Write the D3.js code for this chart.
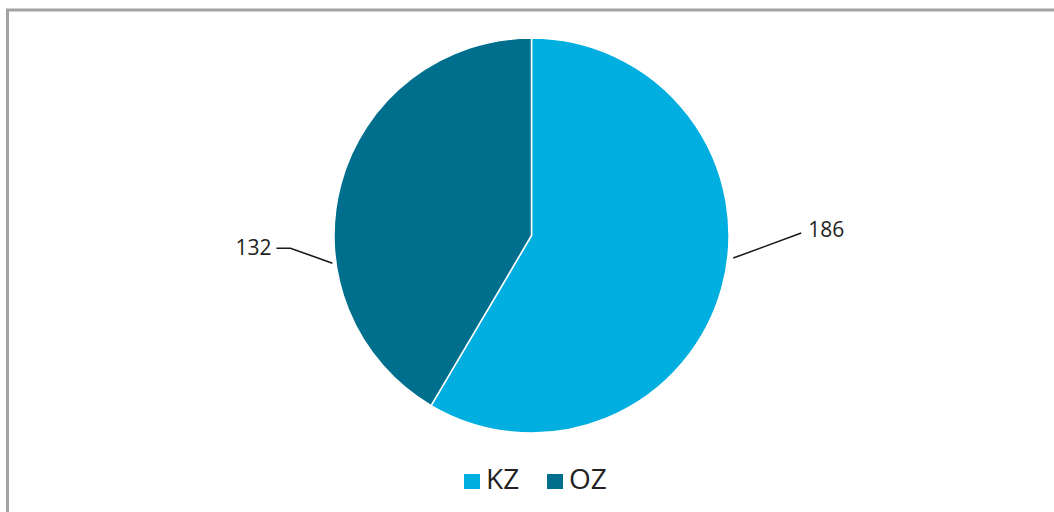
<!DOCTYPE html>
<html><head><meta charset="utf-8">
<script src="https://cdn.jsdelivr.net/npm/d3@7"></script>
<style>body{margin:0;background:#fff}svg{display:block}text{font-family:"Open Sans",sans-serif;fill:#231f20}</style>
</head><body>
<svg id="c" width="1054" height="512"></svg>
<script>
const categories = ["KZ", "OZ"];
const values = [186, 132];
const colors = ["#00aedf", "#006f8d"];

const svg = d3.select("#c");
// frame
svg.append("path").attr("d", "M7.5,520 V10 H1060").attr("fill", "none")
  .attr("stroke", "#a3a3a6").attr("stroke-width", 3);

const cx = 531.5, cy = 235.5, r = 197.5;
const g = svg.append("g").attr("transform", `translate(${cx},${cy})`);
const pie = d3.pie().sort(null).value(d => d.v);
const data = pie(categories.map((c, i) => ({c, v: values[i], col: colors[i]})));
const arc = d3.arc().innerRadius(0).outerRadius(r);
g.selectAll("path.s").data(data).join("path").attr("class", "s")
  .attr("d", arc).attr("fill", d => d.data.col)
  .attr("stroke", "#fff").attr("stroke-width", 1.5).attr("stroke-linejoin", "miter");

// leader lines & labels (layout: anchor angle offsets from slice middle)
const layout = [
  {off: -8.9, r0: 203, pts: [[68, -25]], tx: 7, ty: 4, anchor: "start"},
  {off: -23.2, r0: 201, pts: [[-42, -15], [-56, -15]], tx: -5, ty: 7, anchor: "end"}
];
data.forEach((d, i) => {
  const L = layout[i];
  const a = (d.startAngle + d.endAngle) / 2 + L.off * Math.PI / 180;
  const x0 = Math.sin(a) * L.r0, y0 = -Math.cos(a) * L.r0;
  const pts = [[x0, y0]].concat(L.pts.map(p => [x0 + p[0], y0 + p[1]]));
  g.append("path").attr("d", d3.line()(pts)).attr("fill", "none")
    .attr("stroke", "#1a1a1a").attr("stroke-width", 1.6);
  const last = pts[pts.length - 1];
  g.append("text").attr("x", last[0] + L.tx).attr("y", last[1] + L.ty)
    .attr("text-anchor", L.anchor).attr("font-size", 21).text(d.data.v);
});

// legend
const legX = [464, 547];
categories.forEach((c, i) => {
  svg.append("rect").attr("x", legX[i]).attr("y", 474).attr("width", 16).attr("height", 15)
    .attr("fill", colors[i]);
  svg.append("text").attr("x", legX[i] + 22).attr("y", 489).attr("font-size", 28).text(c);
});
</script>
</body></html>
